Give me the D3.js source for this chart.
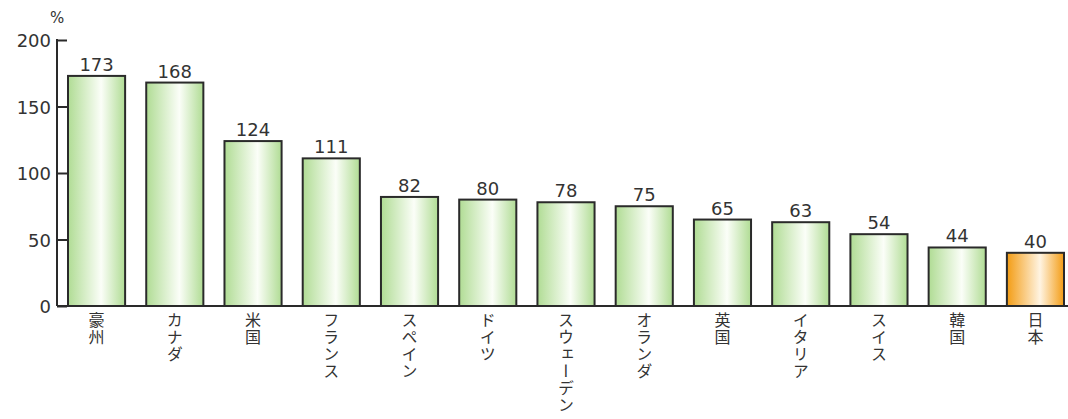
<!DOCTYPE html>
<html>
<head>
<meta charset="utf-8">
<script src="https://cdn.jsdelivr.net/npm/d3@7"></script>
<style>
  body { margin: 0; background: #fff; }
  svg { display: block; font-family: "DejaVu Sans", Arial, "Noto Sans CJK JP", sans-serif; }
</style>
</head>
<body>
<div id="chart"></div>
<script>
// Data
const countries = ['豪州', 'カナダ', '米国', 'フランス', 'スペイン', 'ドイツ', 'スウェーデン', 'オランダ', '英国', 'イタリア', 'スイス', '韓国', '日本'];
const values = [173, 168, 124, 111, 82, 80, 78, 75, 65, 63, 54, 44, 40];
const yTicks = [0, 50, 100, 150, 200];
const highlight = '日本';

const width = 1068, height = 419;
const axisX = 57;

const svg = d3.select('#chart').append('svg')
  .attr('width', width)
  .attr('height', height);

// Horizontal gradients: colour at the edges, white toward the middle
const defs = svg.append('defs');
function gradient(id, edge, mid) {
  const g = defs.append('linearGradient').attr('id', id)
    .attr('x1', '0%').attr('x2', '100%').attr('y1', '0%').attr('y2', '0%');
  g.append('stop').attr('offset', '0%').attr('stop-color', edge);
  g.append('stop').attr('offset', '58%').attr('stop-color', mid);
  g.append('stop').attr('offset', '100%').attr('stop-color', edge);
}
gradient('gGreen', '#b0dc94', '#fbfef8');
gradient('gOrange', '#f39c14', '#fff4e2');

const x = d3.scaleBand()
  .domain(countries)
  .range([68, 1064])
  .paddingInner(0.27)
  .paddingOuter(0);

const y = d3.scaleLinear()
  .domain([0, 200])
  .range([306, 40]);

// Bars
svg.append('g').selectAll('rect')
  .data(countries)
  .join('rect')
  .attr('x', d => x(d))
  .attr('y', (d, i) => y(values[i]))
  .attr('width', x.bandwidth())
  .attr('height', (d, i) => y(0) - y(values[i]))
  .attr('fill', d => d === highlight ? 'url(#gOrange)' : 'url(#gGreen)')
  .attr('stroke', '#2a2a2a')
  .attr('stroke-width', 2);

// Value labels
svg.append('g').selectAll('text')
  .data(countries)
  .join('text')
  .attr('x', d => x(d) + x.bandwidth() / 2)
  .attr('y', (d, i) => y(values[i]) - 5)
  .attr('text-anchor', 'middle')
  .attr('font-size', 18)
  .attr('fill', '#333')
  .text((d, i) => values[i]);

// Y axis, ticks pointing inward
const yAxis = svg.append('g')
  .attr('transform', `translate(${axisX},0)`)
  .call(d3.axisRight(y).tickValues(yTicks).tickSize(10).tickFormat(''));
yAxis.select('.domain').remove();
yAxis.selectAll('line').attr('stroke', '#2a2a2a').attr('stroke-width', 2);

svg.append('line')
  .attr('x1', axisX).attr('x2', axisX)
  .attr('y1', y(200) - 1).attr('y2', y(0))
  .attr('stroke', '#2a2a2a').attr('stroke-width', 2);

svg.append('g').selectAll('text')
  .data(yTicks)
  .join('text')
  .attr('x', axisX - 6)
  .attr('y', d => y(d) + 7)
  .attr('text-anchor', 'end')
  .attr('font-size', 18)
  .attr('fill', '#333')
  .text(d => d);

svg.append('text')
  .attr('x', 50).attr('y', 23)
  .attr('font-size', 15)
  .attr('fill', '#333')
  .text('%');

// Baseline
svg.append('line')
  .attr('x1', axisX).attr('x2', width)
  .attr('y1', y(0)).attr('y2', y(0))
  .attr('stroke', '#2a2a2a').attr('stroke-width', 2);

// Vertical category labels
svg.append('g').selectAll('text')
  .data(countries)
  .join('text')
  .attr('x', d => x(d) + x.bandwidth() / 2)
  .attr('y', 312)
  .attr('font-family', '"Noto Sans CJK JP", sans-serif')
  .attr('font-size', 16)
  .attr('fill', '#333')
  .style('writing-mode', 'vertical-rl')
  .style('letter-spacing', '1px')
  .text(d => d);
</script>
</body>
</html>
